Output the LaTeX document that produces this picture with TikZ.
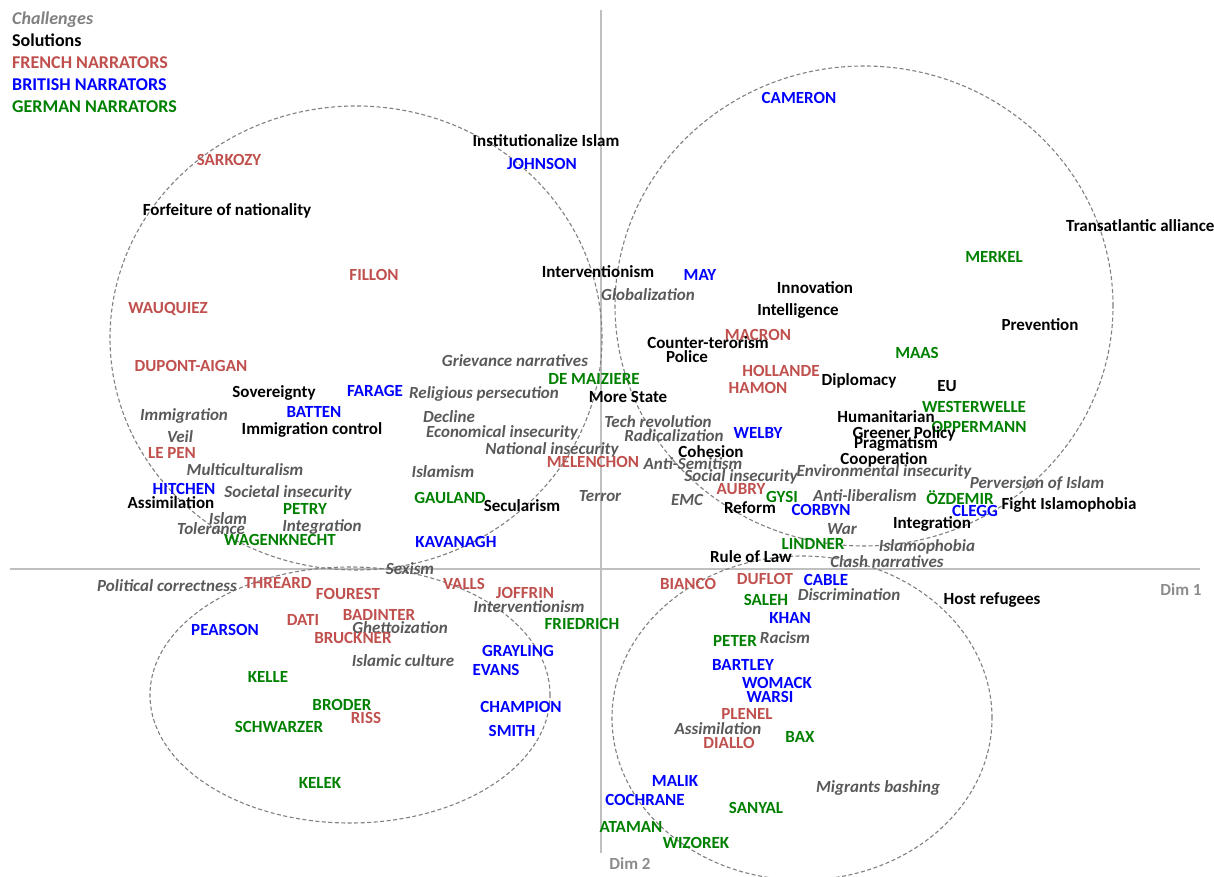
\documentclass[tikz,border=0pt]{standalone}
\usepackage{fontspec}
\setmainfont{Carlito}
\definecolor{frred}{RGB}{192,80,77}
\definecolor{brblue}{RGB}{0,0,255}
\definecolor{degreen}{RGB}{0,128,0}
\definecolor{chgray}{RGB}{89,89,89}
\definecolor{leggray}{RGB}{128,128,128}
\definecolor{axisgray}{RGB}{191,191,191}
\definecolor{ellgray}{RGB}{128,128,128}
\definecolor{dimgray}{RGB}{140,140,140}
\tikzset{
  lbl/.style={inner sep=0pt, text height=11pt, text depth=0pt, font=\fontsize{17}{17}\selectfont\bfseries},
  ch/.style={lbl, text=chgray, font=\fontsize{17}{17}\selectfont\bfseries\itshape},
  so/.style={lbl, text=black},
  fr/.style={lbl, text=frred},
  br/.style={lbl, text=brblue},
  de/.style={lbl, text=degreen},
  leg/.style={inner sep=0pt, anchor=west, text height=11.6pt, text depth=0pt, font=\fontsize{18}{18}\selectfont\bfseries},
  dimlbl/.style={lbl, text=dimgray},
  axisline/.style={draw=axisgray, line width=1.3pt},
  group/.style={draw=ellgray, line width=1.1pt, dash pattern=on 4pt off 2.5pt}
}
\begin{document}
\begin{tikzpicture}[x=1pt,y=-1pt]
\useasboundingbox (0,0) rectangle (1214,877);
% axes
\draw[axisline] (10,569) -- (1200,569);
\draw[axisline] (601,10) -- (601,853);
% groups
\draw[group] (356,338) ellipse [x radius=246pt, y radius=232pt];
\draw[group] (864,306) ellipse [x radius=249pt, y radius=240pt];
\draw[group] (350,695) ellipse [x radius=200pt, y radius=128pt];
\draw[group] (802,718) ellipse [x radius=190pt, y radius=162pt];
% legend
\node[leg, text=leggray, font=\fontsize{18}{18}\selectfont\bfseries\itshape] (legch) at (12,19) {Challenges};
\node[leg, text=black] (legso) at (12,41) {Solutions};
\node[leg, text=frred] (legfr) at (12,63) {FRENCH NARRATORS};
\node[leg, text=brblue] (legbr) at (12,85) {BRITISH NARRATORS};
\node[leg, text=degreen] (legde) at (12,107) {GERMAN NARRATORS};
% axis labels
\node[dimlbl] (dim1) at (1181,590) {Dim 1};
\node[dimlbl] (dim2) at (630,864) {Dim 2};
% top-left
\node[fr] (sarkozy) at (229,160) {SARKOZY};
\node[so] (forfeit) at (227,210) {Forfeiture of nationality};
\node[fr] (fillon) at (374,275) {FILLON};
\node[so] (instisl) at (546,141) {Institutionalize Islam};
\node[br] (johnson) at (542,164) {JOHNSON};
\node[so] (intervA) at (598,272) {Interventionism};
\node[fr] (wauquiez) at (168,308) {WAUQUIEZ};
\node[fr] (dupont) at (191,366) {DUPONT-AIGAN};
\node[so] (sovereignty) at (274,392) {Sovereignty};
\node[br] (farage) at (375,391) {FARAGE};
\node[ch] (immigration) at (184,415) {Immigration};
\node[br] (batten) at (314,412) {BATTEN};
\node[so] (immcontrol) at (312,429) {Immigration control};
\node[ch] (veil) at (180,437) {Veil};
\node[fr] (lepen) at (172,453) {LE PEN};
\node[ch] (multicult) at (245,470) {Multiculturalism};
\node[br] (hitchen) at (184,489) {HITCHEN};
\node[ch] (societal) at (288,492) {Societal insecurity};
\node[so] (assimA) at (171,503) {Assimilation};
\node[de] (petry) at (305,509) {PETRY};
\node[ch] (islam) at (228,519) {Islam};
\node[ch] (integA) at (322,526) {Integration};
\node[ch] (tolerance) at (211,529) {Tolerance};
\node[de] (wagenknecht) at (280,540) {WAGENKNECHT};
\node[ch] (grievance) at (515,361) {Grievance narratives};
\node[de] (demaiziere) at (594,379) {DE MAIZIERE};
\node[ch] (religious) at (484,393) {Religious persecution};
\node[so] (morestate) at (628,397) {More State};
\node[ch] (decline) at (449,417) {Decline};
\node[ch] (econ) at (502,432) {Economical insecurity};
\node[ch] (national) at (552,449) {National insecurity};
\node[fr] (melenchon) at (593,462) {MELENCHON};
\node[ch] (islamism) at (443,472) {Islamism};
\node[de] (gauland) at (450,498) {GAULAND};
\node[ch] (terror) at (600,496) {Terror};
\node[so] (secularism) at (522,506) {Secularism};
\node[br] (kavanagh) at (456,542) {KAVANAGH};
% top-right
\node[br] (cameron) at (799,98) {CAMERON};
\node[so,anchor=west] (transat) at (1066,226) {Transatlantic alliance};
\node[de] (merkel) at (994,257) {MERKEL};
\node[br] (may) at (700,275) {MAY};
\node[ch] (globalization) at (648,295) {Globalization};
\node[so] (innovation) at (815,288) {Innovation};
\node[so] (intelligence) at (798,310) {Intelligence};
\node[so] (prevention) at (1040,325) {Prevention};
\node[fr] (macron) at (758,335) {MACRON};
\node[so] (counter) at (708,343) {Counter-terorism};
\node[so] (police) at (687,357) {Police};
\node[de] (maas) at (917,353) {MAAS};
\node[fr] (hollande) at (781,371) {HOLLANDE};
\node[so] (diplomacy) at (859,380) {Diplomacy};
\node[fr] (hamon) at (758,388) {HAMON};
\node[so] (eu) at (947,386) {EU};
\node[de] (westerwelle) at (974,407) {WESTERWELLE};
\node[so] (humanitarian) at (886,417) {Humanitarian};
\node[ch] (tech) at (658,422) {Tech revolution};
\node[de] (oppermann) at (979,427) {OPPERMANN};
\node[so] (greener) at (904,433) {Greener Policy};
\node[br] (welby) at (758,433) {WELBY};
\node[ch] (radical) at (674,436) {Radicalization};
\node[so] (pragmatism) at (896,443) {Pragmatism};
\node[so] (cohesion) at (711,452) {Cohesion};
\node[so] (cooperation) at (884,459) {Cooperation};
\node[ch] (antisem) at (693,464) {Anti-Semitism};
\node[ch] (environ) at (884,471) {Environmental insecurity};
\node[ch] (social) at (741,476) {Social insecurity};
\node[ch] (perversion) at (1037,483) {Perversion of Islam};
\node[fr] (aubry) at (741,489) {AUBRY};
\node[de] (gysi) at (782,497) {GYSI};
\node[ch] (antilib) at (865,496) {Anti-liberalism};
\node[de] (ozdemir) at (960,499) {ÖZDEMIR};
\node[ch] (emc) at (687,500) {EMC};
\node[so] (fightisl) at (1069,504) {Fight Islamophobia};
\node[so] (reform) at (750,508) {Reform};
\node[br] (corbyn) at (821,510) {CORBYN};
\node[br] (clegg) at (975,511) {CLEGG};
\node[so] (integB) at (932,523) {Integration};
\node[ch] (war) at (842,529) {War};
\node[de] (lindner) at (813,544) {LINDNER};
\node[ch] (islamophobia) at (927,546) {Islamophobia};
\node[so] (ruleoflaw) at (751,557) {Rule of Law};
\node[ch] (clash) at (887,562) {Clash narratives};
% bottom-left
\node[ch] (sexism) at (410,569) {Sexism};
\node[ch] (polcorr) at (167,586) {Political correctness};
\node[fr] (threard) at (278,583) {THREARD};
\node[fr] (valls) at (464,584) {VALLS};
\node[fr] (fourest) at (348,594) {FOUREST};
\node[fr] (joffrin) at (525,593) {JOFFRIN};
\node[ch] (intervB) at (529,607) {Interventionism};
\node[fr] (badinter) at (379,615) {BADINTER};
\node[fr] (dati) at (303,620) {DATI};
\node[de] (friedrich) at (582,624) {FRIEDRICH};
\node[ch] (ghetto) at (400,628) {Ghettoization};
\node[br] (pearson) at (225,630) {PEARSON};
\node[fr] (bruckner) at (353,638) {BRUCKNER};
\node[br] (grayling) at (518,651) {GRAYLING};
\node[ch] (islculture) at (403,661) {Islamic culture};
\node[br] (evans) at (496,670) {EVANS};
\node[de] (kelle) at (268,677) {KELLE};
\node[de] (broder) at (342,705) {BRODER};
\node[br] (champion) at (521,707) {CHAMPION};
\node[fr] (riss) at (366,718) {RISS};
\node[de] (schwarzer) at (279,727) {SCHWARZER};
\node[br] (smith) at (512,731) {SMITH};
\node[de] (kelek) at (320,783) {KELEK};
% bottom-right
\node[fr] (bianco) at (688,584) {BIANCO};
\node[fr] (duflot) at (765,579) {DUFLOT};
\node[br] (cable) at (826,580) {CABLE};
\node[ch] (discrim) at (849,595) {Discrimination};
\node[so] (host) at (992,599) {Host refugees};
\node[de] (saleh) at (766,600) {SALEH};
\node[br] (khan) at (790,618) {KHAN};
\node[ch] (racism) at (785,638) {Racism};
\node[de] (peter) at (735,641) {PETER};
\node[br] (bartley) at (743,665) {BARTLEY};
\node[br] (womack) at (777,683) {WOMACK};
\node[br] (warsi) at (770,697) {WARSI};
\node[fr] (plenel) at (747,714) {PLENEL};
\node[ch] (assimB) at (718,729) {Assimilation};
\node[de] (bax) at (800,737) {BAX};
\node[fr] (diallo) at (729,743) {DIALLO};
\node[br] (malik) at (675,781) {MALIK};
\node[ch] (migrants) at (878,787) {Migrants bashing};
\node[br] (cochrane) at (645,800) {COCHRANE};
\node[de] (sanyal) at (756,808) {SANYAL};
\node[de] (ataman) at (631,827) {ATAMAN};
\node[de] (wizorek) at (696,843) {WIZOREK};
\end{tikzpicture}
\end{document}
